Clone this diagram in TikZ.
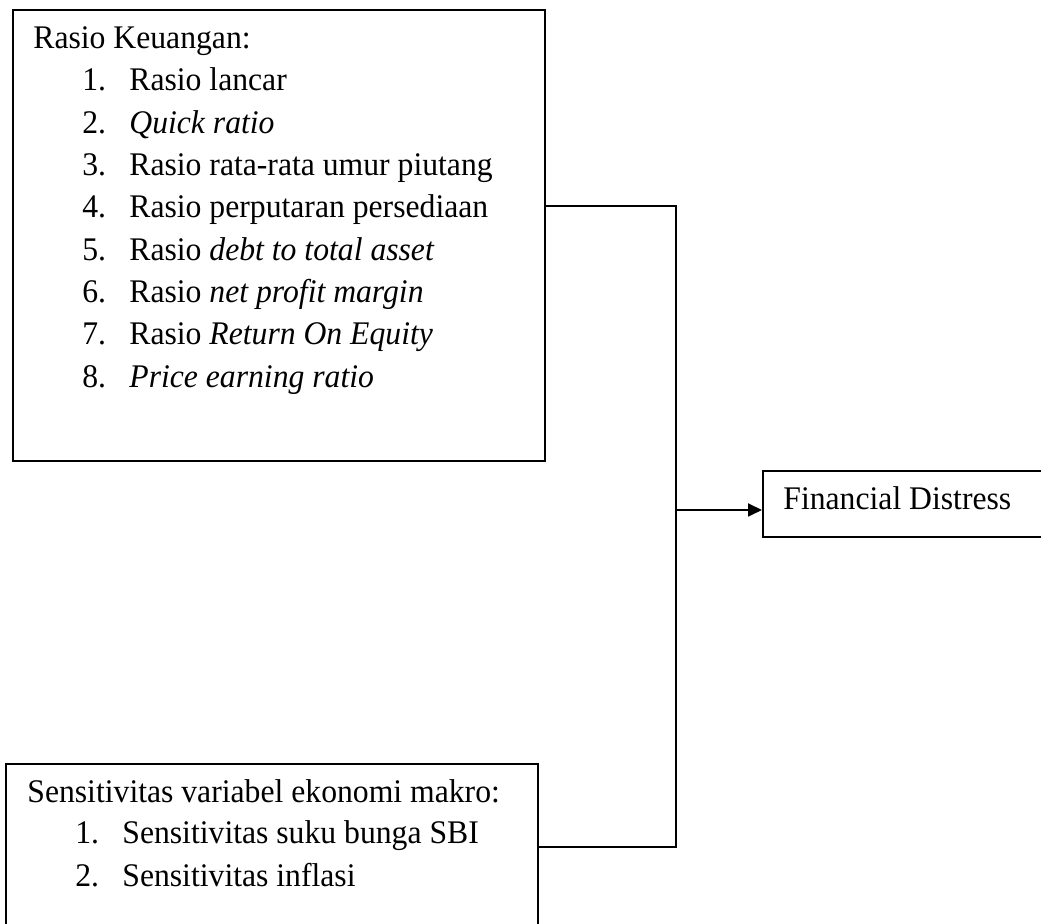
\documentclass[tikz,border=0pt]{standalone}
\usepackage{fontspec}
\setmainfont{Liberation Serif}[FakeStretch=0.96]
\usetikzlibrary{arrows.meta}

\tikzset{
  frame/.style={draw, line width=0.9pt, inner sep=0pt, anchor=north west},
  item/.style={anchor=base west, inner sep=0pt, font=\fontsize{16.5}{20}\selectfont},
  link/.style={line width=0.9pt},
}

\begin{document}
\begin{tikzpicture}[x=0.5pt, y=-0.5pt]

  \useasboundingbox (0,0) rectangle (1041,924);

  % boxes
  \node[frame, minimum width=266pt, minimum height=225.5pt] (rasio) at (12,9) {};
  \node[frame, minimum width=266pt, minimum height=90pt] (sens) at (5,763) {};
  \node[frame, minimum width=145pt, minimum height=33pt] (fd) at (762,470) {};

  % first box
  \node[item] at (33,49) {Rasio Keuangan:};
  \foreach \n/\t [count=\i from 0] in {
      1./Rasio lancar,
      2./\textit{Quick ratio},
      3./Rasio rata-rata umur piutang,
      4./Rasio perputaran persediaan,
      5./Rasio \textit{debt to total asset},
      6./Rasio \textit{net profit margin},
      7./Rasio \textit{Return On Equity},
      8./\textit{Price earning ratio}} {
    \node[item] at (82,91+42.3*\i) {\n};
    \node[item] at (129,91+42.3*\i) {\t};
  }

  % second box
  \node[item] at (27,803) {Sensitivitas variabel ekonomi makro:};
  \node[item] at (75,844) {1.};
  \node[item] at (122,844) {Sensitivitas suku bunga SBI};
  \node[item] at (75,887) {2.};
  \node[item] at (122,887) {Sensitivitas inflasi};

  % result
  \node[item] at (783,510) {Financial Distress};

  % connectors
  \coordinate (top) at (676,206);
  \coordinate (bot) at (676,847);
  \coordinate (mid) at (676,510);

  \draw[link] (rasio.east |- top) -- (top) -- (bot) -- (sens.east |- bot);
  \draw[link, -{Triangle[length=7pt, width=6.5pt]}] (mid) -- (fd.west |- mid);

\end{tikzpicture}
\end{document}
